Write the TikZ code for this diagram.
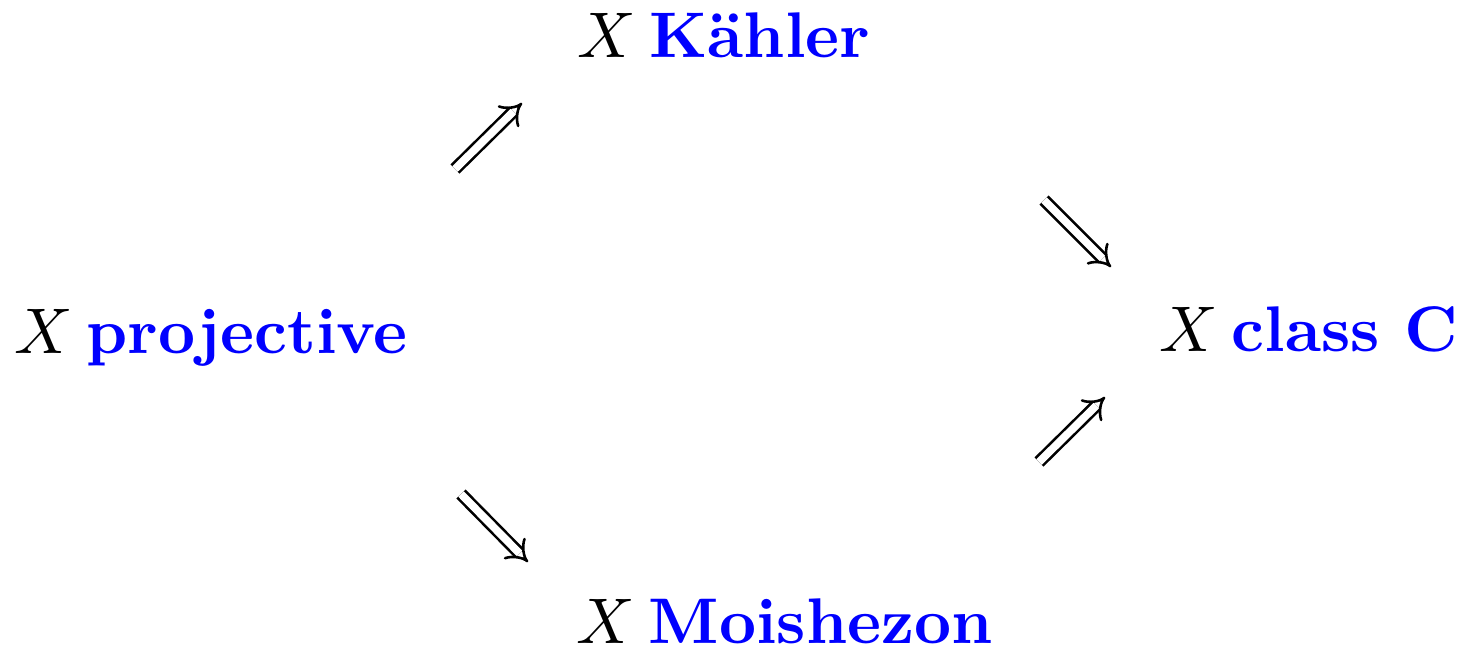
\documentclass[tikz,border=0pt]{standalone}
\usetikzlibrary{arrows.meta}
\newcommand{\lblgap}{\hspace{2.2pt}}
\begin{document}
\begin{tikzpicture}[x=0.15504pt,y=-0.15504pt,
  lbl/.style={inner sep=0pt,outer sep=0pt,anchor=base west},
  imp/.style={double,double distance=1.2pt,line width=0.4pt,-{Implies}}]
\useasboundingbox (0,0) rectangle (1463,654);
\node[lbl] (p) at (14,353) {$X$\lblgap\textcolor{blue}{\textbf{projective}}};
\node[lbl] (k) at (577,57) {$X$\lblgap\textcolor{blue}{\textbf{K\"ahler}}};
\node[lbl] (m) at (576,643) {$X$\lblgap\textcolor{blue}{\textbf{Moishezon}}};
\node[lbl] (c) at (1159,351) {$X$\lblgap\textcolor{blue}{\textbf{class C}}};
\coordinate (a1s) at (455,169); \coordinate (a1e) at (522,103);
\coordinate (a2s) at (461,494); \coordinate (a2e) at (528,562);
\coordinate (a3s) at (1044,200); \coordinate (a3e) at (1111,267);
\coordinate (a4s) at (1039,462); \coordinate (a4e) at (1105,397);
\draw[imp] (a1s) -- (a1e);
\draw[imp] (a2s) -- (a2e);
\draw[imp] (a3s) -- (a3e);
\draw[imp] (a4s) -- (a4e);
\end{tikzpicture}
\end{document}
